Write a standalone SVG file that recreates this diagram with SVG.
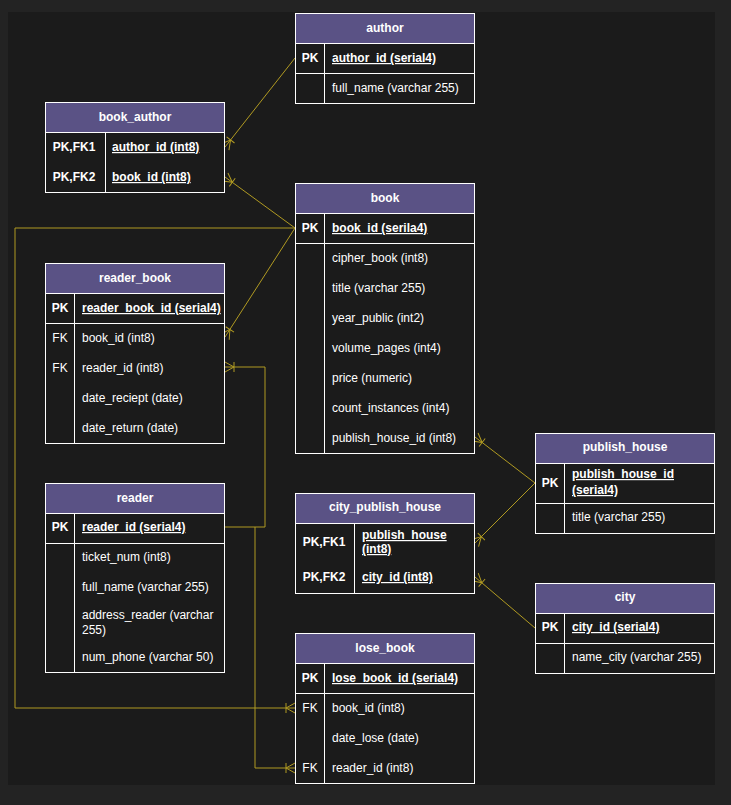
<svg xmlns="http://www.w3.org/2000/svg" width="731" height="805" viewBox="0 0 731 805">
<defs>
<style>
text{font-family:"Liberation Sans",Arial,sans-serif;font-size:12px;fill:#ffffff}
.h{font-weight:bold;text-anchor:middle}
.k{font-weight:bold;text-anchor:middle}
.kn{text-anchor:middle}
.pk{font-weight:bold;text-decoration:underline}
.box{fill:#1b1b1b;stroke:#ffffff;stroke-width:1}
.hd{fill:#5a5285;stroke:#ffffff;stroke-width:1}
.ln{stroke:#ffffff;stroke-width:1;fill:none}
.c{stroke:#b09a22;stroke-width:1;fill:none;marker-end:url(#many)}
</style>
<marker id="many" markerUnits="userSpaceOnUse" viewBox="-11 -7 12 14" refX="0" refY="0" markerWidth="12" markerHeight="14" orient="auto" overflow="visible">
<path d="M-9,0 L0,-5 M-9,0 L0,5 M-9,-5 L-9,5" stroke="#b09a22" stroke-width="1" fill="none"/>
</marker>
</defs>
<rect x="0" y="0" width="731" height="805" fill="#232323"/>
<rect x="8" y="12" width="707" height="773" fill="#1b1b1b"/>

<g id="connectors">
<path class="c" d="M295,58 L225,147"/>
<path class="c" d="M295,228 L225,177"/>
<path class="c" d="M295,228 L225,337"/>
<path class="c" d="M295,228 L15,228 L15,708 L295,708"/>
<path class="c" d="M225,527 L265,527 L265,367 L225,367"/>
<path class="c" d="M255,527 L255,768 L295,768"/>
<path class="c" d="M535,483 L475,437"/>
<path class="c" d="M535,483 L475,543"/>
<path class="c" d="M535,628 L475,577"/>
</g>

<g id="author">
<rect class="box" x="295.5" y="13.5" width="179" height="90"/>
<rect class="hd" x="295.5" y="13.5" width="179" height="30"/>
<path class="ln" d="M295.5,73.5 H474.5 M324.5,43.5 V103.5"/>
<text class="h" x="385" y="32">author</text>
<text class="k" x="310" y="62">PK</text>
<text class="pk" x="332" y="62">author_id (serial4)</text>
<text x="332" y="92">full_name (varchar 255)</text>
</g>

<g id="book_author">
<rect class="box" x="45.5" y="102.5" width="179" height="90"/>
<rect class="hd" x="45.5" y="102.5" width="179" height="30"/>
<path class="ln" d="M105.5,132.5 V192.5"/>
<text class="h" x="135" y="121">book_author</text>
<text class="k" x="74" y="151">PK,FK1</text>
<text class="pk" x="112" y="151">author_id (int8)</text>
<text class="k" x="74" y="181">PK,FK2</text>
<text class="pk" x="112" y="181">book_id (int8)</text>
</g>

<g id="book">
<rect class="box" x="295.5" y="183.5" width="179" height="270"/>
<rect class="hd" x="295.5" y="183.5" width="179" height="30"/>
<path class="ln" d="M295.5,243.5 H474.5 M324.5,213.5 V453.5"/>
<text class="h" x="385" y="202">book</text>
<text class="k" x="310" y="232">PK</text>
<text class="pk" x="332" y="232">book_id (serila4)</text>
<text x="332" y="262">cipher_book (int8)</text>
<text x="332" y="292">title (varchar 255)</text>
<text x="332" y="322">year_public (int2)</text>
<text x="332" y="352">volume_pages (int4)</text>
<text x="332" y="382">price (numeric)</text>
<text x="332" y="412">count_instances (int4)</text>
<text x="332" y="442">publish_house_id (int8)</text>
</g>

<g id="reader_book">
<rect class="box" x="45.5" y="263.5" width="179" height="180"/>
<rect class="hd" x="45.5" y="263.5" width="179" height="30"/>
<path class="ln" d="M45.5,323.5 H224.5 M74.5,293.5 V443.5"/>
<text class="h" x="135" y="282">reader_book</text>
<text class="k" x="60" y="312">PK</text>
<text class="pk" x="82" y="312">reader_book_id (serial4)</text>
<text class="kn" x="60" y="342">FK</text>
<text x="82" y="342">book_id (int8)</text>
<text class="kn" x="60" y="372">FK</text>
<text x="82" y="372">reader_id (int8)</text>
<text x="82" y="402">date_reciept (date)</text>
<text x="82" y="432">date_return (date)</text>
</g>

<g id="reader">
<rect class="box" x="45.5" y="483.5" width="179" height="189"/>
<rect class="hd" x="45.5" y="483.5" width="179" height="30"/>
<path class="ln" d="M45.5,543.5 H224.5 M74.5,513.5 V672.5"/>
<text class="h" x="135" y="502">reader</text>
<text class="k" x="60" y="531">PK</text>
<text class="pk" x="82" y="531">reader_id (serial4)</text>
<text x="82" y="561">ticket_num (int8)</text>
<text x="82" y="591">full_name (varchar 255)</text>
<text x="82" y="619">address_reader (varchar</text>
<text x="82" y="634">255)</text>
<text x="82" y="661">num_phone (varchar 50)</text>
</g>

<g id="publish_house">
<rect class="box" x="535.5" y="433.5" width="179" height="100"/>
<rect class="hd" x="535.5" y="433.5" width="179" height="30"/>
<path class="ln" d="M535.5,503.5 H714.5 M564.5,463.5 V533.5"/>
<text class="h" x="625" y="451">publish_house</text>
<text class="k" x="550" y="487">PK</text>
<text class="pk" x="572" y="478">publish_house_id</text>
<text class="pk" x="572" y="494">(serial4)</text>
<text x="572" y="521">title (varchar 255)</text>
</g>

<g id="city_publish_house">
<rect class="box" x="295.5" y="493.5" width="179" height="100"/>
<rect class="hd" x="295.5" y="493.5" width="179" height="30"/>
<path class="ln" d="M354.5,523.5 V593.5"/>
<text class="h" x="385" y="511">city_publish_house</text>
<text class="k" x="324" y="546">PK,FK1</text>
<text class="pk" x="362" y="539">publish_house</text>
<text class="pk" x="362" y="553">(int8)</text>
<text class="k" x="324" y="581">PK,FK2</text>
<text class="pk" x="362" y="581">city_id (int8)</text>
</g>

<g id="city">
<rect class="box" x="535.5" y="583.5" width="179" height="90"/>
<rect class="hd" x="535.5" y="583.5" width="179" height="30"/>
<path class="ln" d="M535.5,643.5 H714.5 M564.5,613.5 V673.5"/>
<text class="h" x="625" y="601">city</text>
<text class="k" x="550" y="631">PK</text>
<text class="pk" x="572" y="631">city_id (serial4)</text>
<text x="572" y="661">name_city (varchar 255)</text>
</g>

<g id="lose_book">
<rect class="box" x="295.5" y="633.5" width="179" height="150"/>
<rect class="hd" x="295.5" y="633.5" width="179" height="30"/>
<path class="ln" d="M295.5,693.5 H474.5 M324.5,663.5 V783.5"/>
<text class="h" x="385" y="652">lose_book</text>
<text class="k" x="310" y="682">PK</text>
<text class="pk" x="332" y="682">lose_book_id (serial4)</text>
<text class="kn" x="310" y="712">FK</text>
<text x="332" y="712">book_id (int8)</text>
<text x="332" y="742">date_lose (date)</text>
<text class="kn" x="310" y="772">FK</text>
<text x="332" y="772">reader_id (int8)</text>
</g>
</svg>
